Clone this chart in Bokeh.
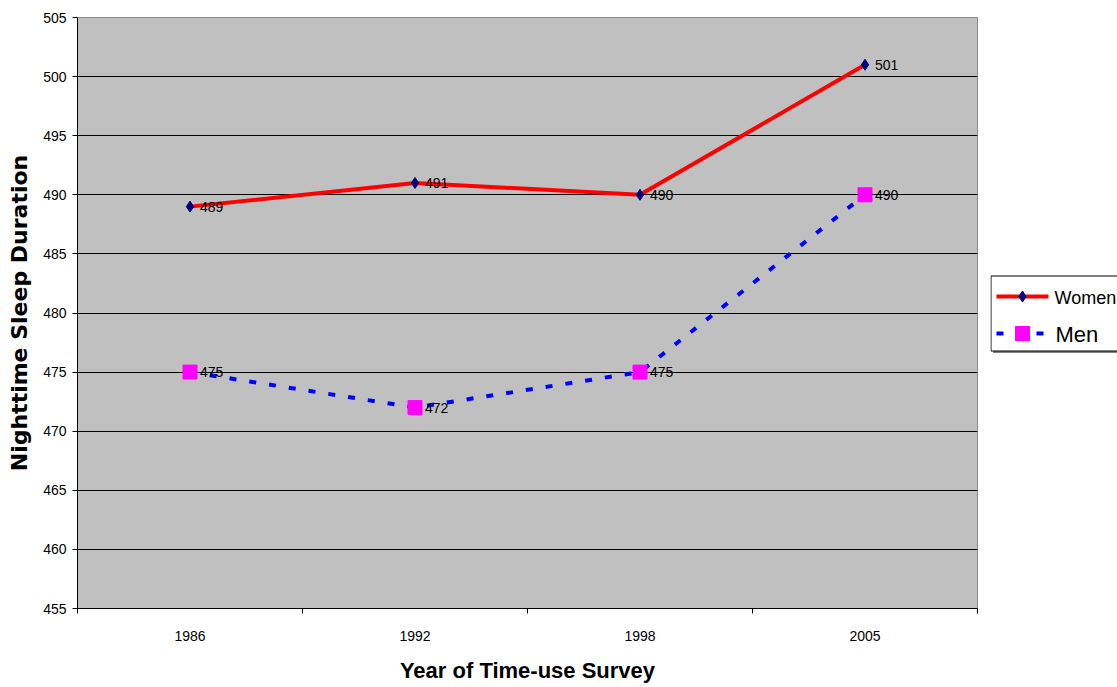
from bokeh.plotting import figure
from bokeh.models import ColumnDataSource, FixedTicker, Range1d
from bokeh.layouts import row
from bokeh.core.properties import value
from bokeh.embed import file_html
from bokeh.resources import INLINE

# Survey years and average nighttime sleep (minutes)
years = ["1986", "1992", "1998", "2005"]
women = [489, 491, 490, 501]
men = [475, 472, 475, 490]
y_ticks = [455, 460, 465, 470, 475, 480, 485, 490, 495, 500, 505]
series_names = ["Women", "Men"]

xpos = [i + 0.5 for i in range(len(years))]
FONT = "Liberation Sans"

WOMEN_LINE = "#FF0000"
WOMEN_MARK = "#000080"
MEN_LINE = "#0000FF"
MEN_MARK = "#FF00FF"
MEN_DASH = "7 13"

TOP, BOTTOM = 17, 79

p = figure(width=990, height=687, output_backend="svg", toolbar_location=None,
           x_range=Range1d(0, len(years)), y_range=Range1d(455, 505),
           min_border_left=77, min_border_right=13, min_border_top=TOP,
           min_border_bottom=BOTTOM)
p.background_fill_color = "#C0C0C0"
p.border_fill_color = "white"
p.outline_line_color = "#8C8C8C"

# grid
p.xgrid.visible = False
p.ygrid.ticker = FixedTicker(ticks=y_ticks)
p.ygrid.grid_line_color = "black"
p.ygrid.grid_line_width = 1

# y axis
p.yaxis.ticker = FixedTicker(ticks=y_ticks)
p.yaxis.axis_line_color = "black"
p.yaxis.major_tick_out = 5
p.yaxis.major_tick_in = 0
p.yaxis.minor_tick_line_color = None
p.yaxis.major_label_standoff = 6
p.yaxis.major_label_text_font = FONT
p.yaxis.major_label_text_font_size = "14px"
p.yaxis.major_label_text_color = "black"
p.yaxis.axis_label = "Nighttime Sleep Duration"
p.yaxis.axis_label_text_font = "DejaVu Sans"
p.yaxis.axis_label_text_font_style = "bold"
p.yaxis.axis_label_text_font_size = "22px"
p.yaxis.axis_label_text_color = "black"
p.yaxis.axis_label_standoff = 8

# x axis: labels at category centres, tick marks at category boundaries
p.xaxis.ticker = FixedTicker(ticks=xpos, minor_ticks=list(range(len(years) + 1)))
p.xaxis.major_label_overrides = {x: y for x, y in zip(xpos, years)}
p.xaxis.axis_line_color = "black"
p.xaxis.major_tick_out = 0
p.xaxis.major_tick_in = 0
p.xaxis.minor_tick_out = 5
p.xaxis.minor_tick_in = 0
p.xaxis.minor_tick_line_color = "black"
p.xaxis.major_label_standoff = 17
p.xaxis.major_label_text_font = FONT
p.xaxis.major_label_text_font_size = "14px"
p.xaxis.major_label_text_color = "black"
p.xaxis.axis_label = "Year of Time-use Survey"
p.xaxis.axis_label_text_font = FONT
p.xaxis.axis_label_text_font_style = "bold"
p.xaxis.axis_label_text_font_size = "22px"
p.xaxis.axis_label_text_color = "black"
p.xaxis.axis_label_standoff = 14

src_w = ColumnDataSource(dict(x=xpos, y=women, lab=[str(v) for v in women]))
src_m = ColumnDataSource(dict(x=xpos, y=men, lab=[str(v) for v in men]))

p.line("x", "y", source=src_w, line_color=WOMEN_LINE, line_width=4)
p.scatter("x", "y", source=src_w, marker="diamond", size=11,
          fill_color=WOMEN_MARK, line_color=WOMEN_MARK)
p.line("x", "y", source=src_m, line_color=MEN_LINE, line_width=4,
       line_dash=MEN_DASH)
p.scatter("x", "y", source=src_m, marker="square", size=14,
          fill_color=MEN_MARK, line_color=MEN_MARK)

for src in (src_w, src_m):
    p.text("x", "y", text="lab", source=src, x_offset=10, text_baseline="middle",
           text_align="left", text_font_size="14px", text_color="black",
           text_font=value(FONT))

# legend panel, laid out in page pixel units (y downward); its frame lines up
# with the chart's frame, so the y range covers the same vertical span
lg = figure(width=127, height=687, output_backend="svg", toolbar_location=None,
            x_range=Range1d(990, 1117), y_range=Range1d(687 - BOTTOM, TOP),
            x_axis_type=None, y_axis_type=None, min_border_left=0,
            min_border_right=0, min_border_top=TOP, min_border_bottom=BOTTOM)
lg.outline_line_color = None
lg.background_fill_color = "white"
lg.border_fill_color = "white"

box_l, box_t, box_b = 990.5, 275.5, 350.5
lg.quad(left=box_l + 2, right=box_l + 200, top=box_t + 2, bottom=box_b + 2,
        fill_color="#808080", line_color=None)
lg.quad(left=box_l, right=box_l + 200, top=box_t, bottom=box_b,
        fill_color="white", line_color="black", line_width=1)

g0, g1 = 996, 1048
gc = (g0 + g1) / 2
row_y = [296, 333]
lg.line([g0, g1], [row_y[0], row_y[0]], line_color=WOMEN_LINE, line_width=4)
lg.scatter([gc], [row_y[0]], marker="diamond", size=11,
           fill_color=WOMEN_MARK, line_color=WOMEN_MARK)
lg.line([g0, g1], [row_y[1], row_y[1]], line_color=MEN_LINE, line_width=4,
        line_dash=MEN_DASH)
lg.scatter([gc], [row_y[1]], marker="square", size=14,
           fill_color=MEN_MARK, line_color=MEN_MARK)
lg.text([1054], [row_y[0] + 1], text=[series_names[0]], text_baseline="middle",
        text_font=value(FONT), text_font_size="18px", text_color="black")
lg.text([1055], [row_y[1] + 1], text=[series_names[1]], text_baseline="middle",
        text_font=value(FONT), text_font_size="22px", text_color="black")

page = row(p, lg, spacing=0)
open("out.html", "w").write(file_html(page, INLINE))
